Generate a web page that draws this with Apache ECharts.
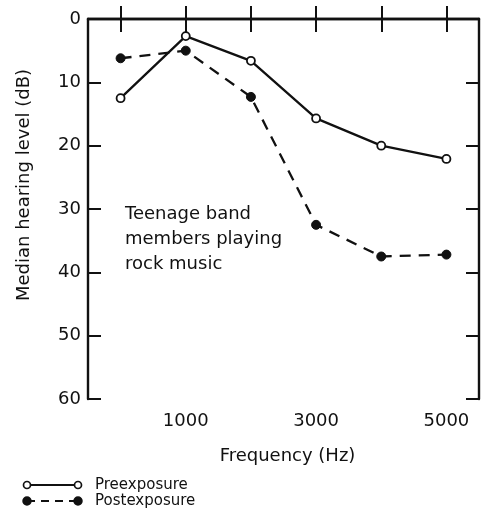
<!DOCTYPE html>
<html>
<head>
<meta charset="utf-8">
<script src="https://cdn.jsdelivr.net/npm/echarts@6/dist/echarts.min.js"></script>
<style>
  html, body { margin: 0; padding: 0; background: #fff; }
  #chart { width: 484px; height: 521px; }
</style>
</head>
<body>
<div id="chart"></div>
<script>
// Audiometric test frequencies (Hz); only every other one gets a printed label
const frequencies = ['500', '1000', '2000', '3000', '4000', '5000'];
const labeledFrequencies = ['1000', '3000', '5000'];
// Median hearing level (dB) before and after playing
const preexposure = [12.5, 2.7, 6.6, 15.7, 20.0, 22.1];
const postexposure = [6.2, 5.0, 12.3, 32.5, 37.5, 37.2];
const hearingTicks = [0, 10, 20, 30, 40, 50, 60];

const FONT = 'DejaVu Sans';
const INK = '#111';

const chart = echarts.init(document.getElementById('chart'), null, { renderer: 'canvas' });

const axisLine = { show: true, lineStyle: { color: INK, width: 2.4 } };
const insideTick = { show: true, inside: true, length: 13, lineStyle: { color: INK, width: 2 } };

// Legend key drawn as plain shapes: a short line with a marker at each end
function legendKey(y, label, dashed) {
  const line = { type: 'line', shape: { x1: 27, y1: y, x2: 78, y2: y },
    style: { stroke: INK, lineWidth: 2.2, lineDash: dashed ? [8, 6] : null } };
  const dot = cx => ({ type: 'circle', shape: { cx: cx, cy: y, r: dashed ? 3.9 : 3.5 },
    style: { fill: dashed ? INK : '#fff', stroke: INK, lineWidth: 1.7 } });
  const text = { type: 'text', x: 95, y: y,
    style: { text: label, font: '15px "' + FONT + '"', fill: INK, verticalAlign: 'middle' } };
  return [line, dot(27), dot(78), text];
}

chart.setOption({
  animation: false,
  backgroundColor: '#fff',
  grid: { left: 88, right: 5, top: 19, bottom: 122 },
  xAxis: [
    {
      type: 'category',
      data: frequencies,
      position: 'bottom',
      boundaryGap: true,
      axisLine: axisLine,
      axisTick: Object.assign({ alignWithLabel: true }, insideTick),
      axisLabel: {
        color: INK, fontFamily: FONT, fontSize: 18, margin: 13,
        interval: 0,
        formatter: v => (labeledFrequencies.includes(v) ? v : '')
      },
      name: 'Frequency (Hz)',
      nameLocation: 'middle',
      nameGap: 48,
      nameTextStyle: { color: INK, fontFamily: FONT, fontSize: 18, padding: [0, 0, 0, 8] },
      splitLine: { show: false }
    },
    {
      type: 'category',
      data: frequencies,
      position: 'top',
      boundaryGap: true,
      axisLine: axisLine,
      axisTick: Object.assign({ alignWithLabel: true }, insideTick),
      axisLabel: { show: false },
      splitLine: { show: false }
    }
  ],
  yAxis: [
    {
      type: 'value',
      inverse: true,
      min: hearingTicks[0],
      max: hearingTicks[hearingTicks.length - 1],
      interval: 10,
      position: 'left',
      axisLine: axisLine,
      axisTick: insideTick,
      axisLabel: { color: INK, fontFamily: FONT, fontSize: 18, margin: 7 },
      name: 'Median hearing level (dB)',
      nameLocation: 'middle',
      nameGap: 55,
      nameTextStyle: { color: INK, fontFamily: FONT, fontSize: 18, padding: [0, 0, 0, 48] },
      splitLine: { show: false }
    },
    {
      type: 'value',
      inverse: true,
      min: hearingTicks[0],
      max: hearingTicks[hearingTicks.length - 1],
      interval: 10,
      position: 'right',
      axisLine: axisLine,
      axisTick: insideTick,
      axisLabel: { show: false },
      splitLine: { show: false }
    }
  ],
  series: [
    {
      name: 'Preexposure',
      type: 'line',
      data: preexposure,
      symbol: 'circle',
      symbolSize: 8,
      lineStyle: { color: INK, width: 2.3, type: 'solid' },
      itemStyle: { color: '#fff', borderColor: INK, borderWidth: 1.8 },
      z: 3
    },
    {
      name: 'Postexposure',
      type: 'line',
      data: postexposure,
      symbol: 'circle',
      symbolSize: 9,
      lineStyle: { color: INK, width: 2.3, type: [11, 8] },
      itemStyle: { color: INK, borderColor: INK, borderWidth: 1 },
      z: 2
    }
  ],
  graphic: [
    {
      type: 'text',
      left: 125,
      top: 202,
      style: {
        text: 'Teenage band\nmembers playing\nrock music',
        font: '18px "' + FONT + '"',
        fill: INK,
        lineHeight: 25
      }
    }
  ].concat(legendKey(485, 'Preexposure', false), legendKey(501, 'Postexposure', true))
});
</script>
</body>
</html>
